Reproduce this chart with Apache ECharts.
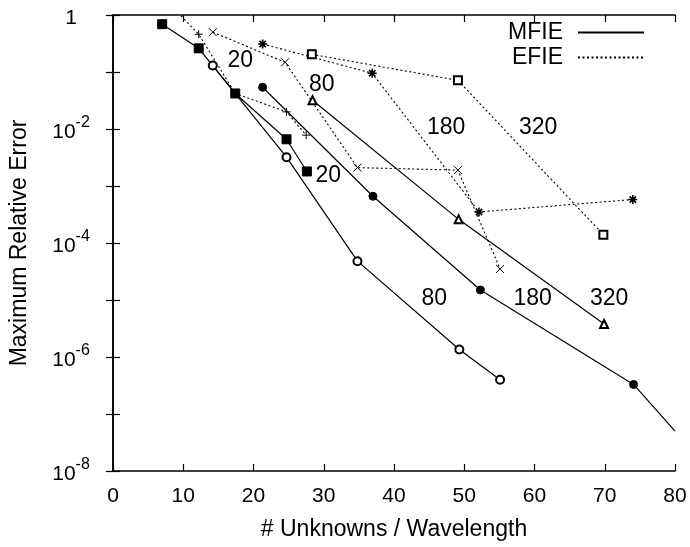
<!DOCTYPE html>
<html>
<head>
<meta charset="utf-8">
<script src="https://cdn.jsdelivr.net/npm/echarts@6/dist/echarts.min.js"></script>
<style>
html,body{margin:0;padding:0;background:#fff;}
#chart{width:690px;height:547px;}
</style>
</head>
<body>
<div id="chart"></div>
<script>
// ---- data (x = unknowns per wavelength, y = maximum relative error) ----
var mfie20X  = [7.0, 12.2, 17.4, 24.7, 27.6];
var mfie20Y  = [0.69, 0.26, 0.042, 0.0066, 0.0018];
var mfie80X  = [14.2, 24.7, 34.8, 49.3, 55.1];
var mfie80Y  = [0.13, 0.0032, 4.8e-5, 1.35e-6, 4.0e-7];
var mfie180X = [21.3, 37.0, 52.3, 74.1, 80.0];
var mfie180Y = [0.054, 6.6e-4, 1.5e-5, 3.3e-7, 5.0e-8];
var mfie320X = [28.4, 49.2, 69.9];
var mfie320Y = [0.032, 2.6e-4, 3.8e-6];

var efie20X  = [8.8, 12.2, 17.4, 24.7, 27.5];
var efie20Y  = [1.26, 0.46, 0.042, 0.020, 0.0078];
var efie80X  = [14.2, 24.5, 34.8, 49.1, 55.1];
var efie80Y  = [0.50, 0.148, 0.0021, 0.0019, 3.5e-5];
var efie180X = [21.3, 36.9, 52.1, 74.0];
var efie180Y = [0.31, 0.095, 3.5e-4, 5.8e-4];
var efie320X = [28.3, 49.1, 69.8];
var efie320Y = [0.204, 0.0715, 1.4e-4];

// curve annotations (text placed at data coordinates)
var noteText = ['20', '80', '20', '180', '320', '80', '180', '320'];
var noteX    = [18.2, 29.8, 30.7, 47.5, 60.6, 45.8, 59.8, 70.7];
var noteY    = [0.152, 0.059, 0.00146, 0.0103, 0.0103, 1.04e-5, 1.04e-5, 1.04e-5];

var xTicks = [0, 10, 20, 30, 40, 50, 60, 70, 80];

function pairs(xs, ys) { return xs.map(function (x, i) { return [x, ys[i]]; }); }

var FONT = 'Liberation Sans, Arial, Helvetica, sans-serif';
var PLUS  = 'path://M0,5L10,5M5,0L5,10';
var CROSS = 'path://M0,0L10,10M10,0L0,10';
var STAR  = 'path://M0,5L10,5M5,0L5,10M1.5,1.5L8.5,8.5M8.5,1.5L1.5,8.5';

function solid(name, xs, ys, symbol, size) {
  return {
    type: 'line', name: name, data: pairs(xs, ys), symbol: symbol, symbolSize: size,
    showSymbol: true, clip: true, silent: true, z: 3,
    lineStyle: { color: '#000', width: 1.2, type: 'solid' },
    itemStyle: { color: '#000', borderColor: '#000', borderWidth: 1 }
  };
}
function dotted(name, xs, ys, symbol, size, bw) {
  return {
    type: 'line', name: name, data: pairs(xs, ys), symbol: symbol, symbolSize: size,
    showSymbol: true, clip: true, silent: true, z: 2,
    lineStyle: { color: '#000', width: 1.1, type: [2, 2.5] },
    itemStyle: { color: '#000', borderColor: '#000', borderWidth: bw || 1 }
  };
}

var s180 = solid('MFIE 180', mfie180X, mfie180Y, 'circle', 8);
s180.data[s180.data.length - 1] = { value: s180.data[s180.data.length - 1], symbol: 'none' };
var e20 = dotted('EFIE 20', efie20X, efie20Y, PLUS, 8, 1);
e20.data[0] = { value: e20.data[0], symbol: 'none' };

var series = [
  { type: 'line', name: 'MFIE', data: [], symbol: 'none',
    lineStyle: { color: '#000', width: 1.4, type: 'solid' }, itemStyle: { color: '#000' } },
  { type: 'line', name: 'EFIE', data: [], symbol: 'none',
    lineStyle: { color: '#000', width: 1.1, type: [2, 2.5] }, itemStyle: { color: '#000' } },
  solid('MFIE 20', mfie20X, mfie20Y, 'rect', 9),
  solid('MFIE 80', mfie80X, mfie80Y, 'emptyCircle', 8),
  s180,
  solid('MFIE 320', mfie320X, mfie320Y, 'emptyTriangle', 8),
  e20,
  dotted('EFIE 80', efie80X, efie80Y, CROSS, 8, 1),
  dotted('EFIE 180', efie180X, efie180Y, STAR, 9, 1.6),
  dotted('EFIE 320', efie320X, efie320Y, 'emptyRect', 8, 1),
  {
    type: 'scatter', name: 'notes', silent: true, z: 5,
    data: noteX.map(function (x, i) { return [x, noteY[i], noteText[i]]; }),
    symbolSize: 1, itemStyle: { color: '#fff', opacity: 0 },
    label: { show: true, position: [0, 0], align: 'center', verticalAlign: 'middle',
      color: '#000', opacity: 1, textBorderWidth: 0, fontFamily: FONT, fontSize: 23,
      formatter: function (p) { return p.data[2]; } }
  }
];

function yFmt(v) {
  var e = Math.round(Math.log10(v));
  if (e % 2 !== 0) return '';
  if (e === 0) return '{b|1}';
  return '{b|10}{s|' + e + '}';
}

var chart = echarts.init(document.getElementById('chart'), null, { renderer: 'canvas' });
chart.setOption({
  animation: false,
  backgroundColor: '#fff',
  grid: { left: 112, right: 15, top: 15, bottom: 76, containLabel: false },
  legend: {
    data: ['MFIE', 'EFIE'], orient: 'vertical', align: 'right',
    right: 45, top: 20, padding: 0, itemGap: 0, itemWidth: 66, itemHeight: 14,
    selectedMode: false,
    itemStyle: { opacity: 0 },
    textStyle: { fontFamily: FONT, fontSize: 23, color: '#000', lineHeight: 25, padding: [0, 10, 0, 0] }
  },
  xAxis: [
    {
      type: 'value', min: xTicks[0], max: xTicks[xTicks.length - 1], interval: 10,
      name: '# Unknowns / Wavelength', nameLocation: 'middle', nameGap: 47,
      nameTextStyle: { fontFamily: FONT, fontSize: 23, color: '#000' },
      axisLine: { show: true, lineStyle: { color: '#000', width: 1.6 } },
      axisTick: { show: true, inside: true, length: 7, lineStyle: { color: '#000', width: 1.2 } },
      axisLabel: { fontFamily: FONT, fontSize: 21, color: '#000', margin: 15 },
      splitLine: { show: false }
    },
    {
      type: 'value', position: 'top', min: xTicks[0], max: xTicks[xTicks.length - 1], interval: 10,
      axisLine: { show: true, lineStyle: { color: '#000', width: 1.6 } },
      axisTick: { show: true, inside: true, length: 7, lineStyle: { color: '#000', width: 1.2 } },
      axisLabel: { show: false }, splitLine: { show: false }
    }
  ],
  yAxis: [
    {
      type: 'log', logBase: 10, min: 1e-8, max: 1, interval: 1,
      name: 'Maximum Relative Error', nameLocation: 'middle', nameGap: 82, nameRotate: 90,
      nameTextStyle: { fontFamily: FONT, fontSize: 23, color: '#000' },
      axisLine: { show: true, lineStyle: { color: '#000', width: 1.6 } },
      axisTick: { show: true, inside: true, length: 7, lineStyle: { color: '#000', width: 1.2 } },
      minorTick: { show: false },
      axisLabel: {
        formatter: yFmt, margin: 42, align: 'center', color: '#000',
        rich: {
          b: { fontFamily: FONT, fontSize: 21, lineHeight: 28, verticalAlign: 'bottom', color: '#000' },
          s: { fontFamily: FONT, fontSize: 16, lineHeight: 16, verticalAlign: 'top', color: '#000' }
        }
      },
      splitLine: { show: false }
    },
    {
      type: 'log', logBase: 10, min: 1e-8, max: 1, interval: 1, position: 'right',
      axisLine: { show: true, lineStyle: { color: '#000', width: 1.6 } },
      axisTick: { show: true, inside: true, length: 7, lineStyle: { color: '#000', width: 1.2 } },
      axisLabel: { show: false }, splitLine: { show: false }
    }
  ],
  series: series
});
</script>
</body>
</html>
